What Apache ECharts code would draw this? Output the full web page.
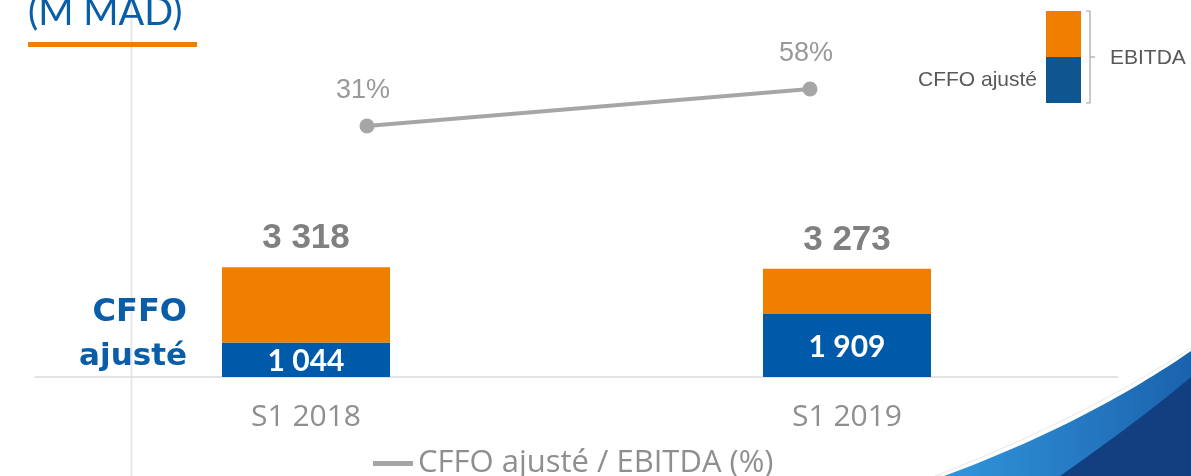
<!DOCTYPE html>
<html>
<head>
<meta charset="utf-8">
<script src="https://cdn.jsdelivr.net/npm/echarts@6/dist/echarts.min.js"></script>
<style>
  html, body { margin: 0; padding: 0; background: #fff; }
  #main { width: 1191px; height: 476px; }
</style>
</head>
<body>
<div id="main"></div>
<script>
var categories = ['S1 2018', 'S1 2019'];
var cffo = [1044, 1909];
var ebitda = [3318, 3273];
var ratio = [31, 58];

function fmt(v) {
  return String(v).replace(/\B(?=(\d{3})+(?!\d))/g, ' ');
}

// sample a quadratic curve for the corner decoration
function curve(x0, y0, cx, cy, x1, y1) {
  var pts = [];
  for (var i = 0; i <= 30; i++) {
    var t = i / 30, u = 1 - t;
    pts.push([u * u * x0 + 2 * u * t * cx + t * t * x1, u * u * y0 + 2 * u * t * cy + t * t * y1]);
  }
  pts.push([1191, 476]);
  return pts;
}

var rest = ebitda.map(function (v, i) { return v - cffo[i]; });

var myChart = echarts.init(document.getElementById('main'));

var option = {
  backgroundColor: '#fff',
  animation: false,
  grid: [
    { left: 35.5, width: 1082, top: 10, bottom: 99 },
    { left: 145.5, width: 886, top: 31.5, height: 137 }
  ],
  xAxis: [
    {
      type: 'category',
      gridIndex: 0,
      data: categories,
      axisLine: { lineStyle: { color: '#e3e3e3', width: 2 } },
      axisTick: { show: false },
      axisLabel: {
        margin: 25,
        fontSize: 30,
        color: '#8f8f8f',
        fontFamily: 'Open Sans'
      }
    },
    {
      type: 'category',
      gridIndex: 1,
      data: categories,
      show: false
    }
  ],
  yAxis: [
    { type: 'value', gridIndex: 0, min: 0, max: 11100, show: false },
    { type: 'value', gridIndex: 1, min: 0, max: 100, show: false }
  ],
  legend: {
    left: 368,
    top: 443,
    data: ['CFFO ajusté / EBITDA (%)'],
    icon: 'rect',
    itemWidth: 40,
    itemHeight: 5,
    itemGap: 8,
    textStyle: { fontSize: 31, color: '#8f8f8f', fontFamily: 'Open Sans' }
  },
  graphic: [
    { type: 'line', shape: { x1: 131.5, y1: 0, x2: 131.5, y2: 476 },
      style: { stroke: '#e8e8e8', lineWidth: 2 }, z: -1 },
    { type: 'text', x: 28, y: -6,
      style: { text: '(M MAD)', fontSize: 38, fill: '#0a5ea8', fontFamily: 'Lato' } },
    { type: 'rect', shape: { x: 28, y: 42, width: 169, height: 5 }, style: { fill: '#f07f00' } },
    { type: 'text', x: 187, y: 313,
      style: { text: 'CFFO', fontSize: 32, fontWeight: 'bold', fill: '#0a5ea8',
        fontFamily: 'DejaVu Sans', align: 'right', verticalAlign: 'middle' } },
    { type: 'text', x: 187, y: 357,
      style: { text: 'ajusté', fontSize: 31, fontWeight: 'bold', fill: '#0a5ea8',
        fontFamily: 'DejaVu Sans', align: 'right', verticalAlign: 'middle' } },
    { type: 'rect', shape: { x: 1046, y: 11, width: 35, height: 46 }, style: { fill: '#f07f00' } },
    { type: 'rect', shape: { x: 1046, y: 57, width: 35, height: 46 }, style: { fill: '#0f5590' } },
    { type: 'polyline', shape: { points: [[1086, 11], [1090, 11], [1090, 103], [1086, 103]] },
      style: { stroke: '#a6a6a6', lineWidth: 1.2, fill: null } },
    { type: 'line', shape: { x1: 1090, y1: 57, x2: 1095, y2: 57 },
      style: { stroke: '#a6a6a6', lineWidth: 1.2 } },
    { type: 'text', x: 1110, y: 58,
      style: { text: 'EBITDA', fontSize: 21, fill: '#595959', fontFamily: 'Liberation Sans',
        verticalAlign: 'middle' } },
    { type: 'text', x: 1037, y: 80,
      style: { text: 'CFFO ajusté', fontSize: 21, fill: '#595959', fontFamily: 'Liberation Sans',
        align: 'right', verticalAlign: 'middle' } },
    { type: 'polygon', z: 10,
      shape: { points: curve(935, 476, 1080, 420, 1191, 348) },
      style: { fill: '#ffffff', stroke: '#e8e8e8', lineWidth: 1 } },
    { type: 'polygon', z: 11,
      shape: { points: curve(944, 476, 1085, 424, 1191, 351) },
      style: { fill: new echarts.graphic.LinearGradient(0, 0, 1, 0, [
        { offset: 0, color: '#3196dc' }, { offset: 1, color: '#1b62ad' }]) } },
    { type: 'polygon', z: 12,
      shape: { points: curve(1060, 476, 1140, 420, 1191, 377) },
      style: { fill: '#123f80' } }
  ],
  series: [
    {
      name: 'CFFO ajusté',
      type: 'bar',
      stack: 'total',
      barWidth: 168,
      data: cffo,
      itemStyle: { color: '#005aaa' },
      label: {
        show: true,
        position: 'inside',
        offset: [0, 2],
        fontSize: 30,
        fontWeight: 'bold',
        color: '#fff',
        fontFamily: 'Lato',
        formatter: function (p) { return fmt(p.value); }
      }
    },
    {
      name: 'EBITDA',
      type: 'bar',
      stack: 'total',
      barWidth: 168,
      data: rest,
      itemStyle: { color: '#f07f00' },
      label: {
        show: true,
        position: 'top',
        distance: 11,
        fontSize: 35,
        fontWeight: 'bold',
        color: '#808080',
        fontFamily: 'Liberation Sans',
        formatter: function (p) { return fmt(ebitda[p.dataIndex]); }
      }
    },
    {
      name: 'CFFO ajusté / EBITDA (%)',
      type: 'line',
      xAxisIndex: 1,
      yAxisIndex: 1,
      data: ratio,
      symbol: 'circle',
      symbolSize: 15,
      lineStyle: { color: '#a6a6a6', width: 4 },
      itemStyle: { color: '#a6a6a6' },
      label: {
        show: true,
        position: 'top',
        distance: 14,
        offset: [-4, 0],
        fontSize: 27,
        color: '#999999',
        fontFamily: 'Liberation Sans',
        formatter: '{c}%'
      }
    }
  ]
};

myChart.setOption(option);
</script>
</body>
</html>
